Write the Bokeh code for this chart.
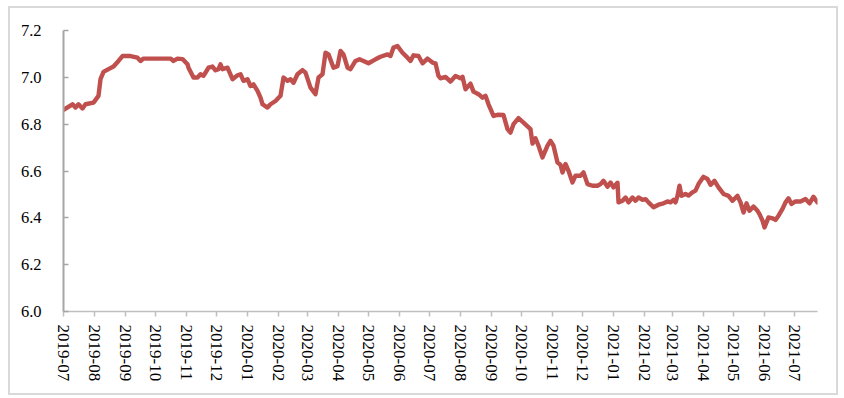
import pandas as pd
from bokeh.plotting import figure
from bokeh.models import (Range1d, FixedTicker, DatetimeTickFormatter, NumeralTickFormatter,
                          ColumnDataSource)
from bokeh.embed import file_html
from bokeh.resources import INLINE

dates = [
    "2019-07-01", "2019-07-10", "2019-07-13", "2019-07-16", "2019-07-20", "2019-07-23", "2019-07-31",
    "2019-08-05", "2019-08-07", "2019-08-10", "2019-08-15", "2019-08-20", "2019-08-25", "2019-08-29",
    "2019-09-06", "2019-09-13", "2019-09-16", "2019-09-19",
    "2019-10-16", "2019-10-19", "2019-10-23", "2019-10-28",
    "2019-11-02", "2019-11-03", "2019-11-08", "2019-11-12", "2019-11-15", "2019-11-18", "2019-11-23", "2019-11-27", "2019-11-30",
    "2019-12-03", "2019-12-05", "2019-12-07", "2019-12-12", "2019-12-17", "2019-12-22", "2019-12-25", "2019-12-28",
    "2020-01-01", "2020-01-04", "2020-01-07", "2020-01-11", "2020-01-14", "2020-01-16", "2020-01-21", "2020-01-24", "2020-01-29",
    "2020-02-03", "2020-02-06", "2020-02-10", "2020-02-13", "2020-02-16", "2020-02-20", "2020-02-25", "2020-02-28",
    "2020-03-04", "2020-03-09", "2020-03-12", "2020-03-16", "2020-03-19", "2020-03-22", "2020-03-27", "2020-03-31",
    "2020-04-03", "2020-04-06", "2020-04-10", "2020-04-13", "2020-04-18", "2020-04-22", "2020-04-26",
    "2020-05-01", "2020-05-08", "2020-05-13", "2020-05-20", "2020-05-23", "2020-05-26", "2020-05-30",
    "2020-06-04", "2020-06-09", "2020-06-12", "2020-06-15", "2020-06-20", "2020-06-24", "2020-06-29",
    "2020-07-04", "2020-07-07", "2020-07-10", "2020-07-12", "2020-07-17", "2020-07-22", "2020-07-27",
    "2020-08-01", "2020-08-03", "2020-08-06", "2020-08-11", "2020-08-14", "2020-08-19", "2020-08-23", "2020-08-26", "2020-08-29",
    "2020-09-03", "2020-09-07", "2020-09-13", "2020-09-17", "2020-09-20", "2020-09-23", "2020-09-28",
    "2020-10-03", "2020-10-10", "2020-10-12", "2020-10-15", "2020-10-18", "2020-10-22", "2020-10-27", "2020-10-30",
    "2020-11-02", "2020-11-06", "2020-11-09", "2020-11-11", "2020-11-14", "2020-11-17", "2020-11-21", "2020-11-24", "2020-11-29",
    "2020-12-02", "2020-12-06", "2020-12-11", "2020-12-16", "2020-12-19", "2020-12-22", "2020-12-26", "2020-12-29",
    "2021-01-01", "2021-01-05", "2021-01-06", "2021-01-10", "2021-01-13", "2021-01-16", "2021-01-20", "2021-01-23", "2021-01-26", "2021-01-30",
    "2021-02-02", "2021-02-05", "2021-02-10", "2021-02-15", "2021-02-20", "2021-02-24", "2021-02-27",
    "2021-03-02", "2021-03-04", "2021-03-06", "2021-03-08", "2021-03-10", "2021-03-14", "2021-03-17", "2021-03-21", "2021-03-24", "2021-03-27",
    "2021-04-01", "2021-04-05", "2021-04-08", "2021-04-12", "2021-04-16", "2021-04-21", "2021-04-26", "2021-04-30",
    "2021-05-05", "2021-05-08", "2021-05-11", "2021-05-14", "2021-05-17", "2021-05-21", "2021-05-25", "2021-05-27", "2021-05-30",
    "2021-06-01", "2021-06-05", "2021-06-09", "2021-06-12", "2021-06-15", "2021-06-19", "2021-06-22", "2021-06-25", "2021-06-28",
    "2021-07-02", "2021-07-07", "2021-07-12", "2021-07-16", "2021-07-20", "2021-07-24",
]

rates = [
    6.861, 6.885, 6.871, 6.885, 6.867, 6.885, 6.892,
    6.921, 6.992, 7.023, 7.035, 7.046, 7.070, 7.091,
    7.091, 7.084, 7.070, 7.080,
    7.080, 7.070, 7.080, 7.078,
    7.056, 7.041, 6.999, 6.999, 7.013, 7.006, 7.041, 7.046, 7.030,
    7.035, 7.056, 7.035, 7.041, 6.992, 7.009, 7.013, 6.985,
    6.992, 6.963, 6.970, 6.942, 6.913, 6.885, 6.871, 6.885, 6.899,
    6.921, 6.999, 6.985, 6.992, 6.977, 7.013, 7.031, 7.020,
    6.956, 6.928, 6.999, 7.013, 7.105, 7.098, 7.041, 7.048,
    7.113, 7.098, 7.041, 7.035, 7.070, 7.077, 7.070,
    7.060, 7.077, 7.088, 7.098, 7.091, 7.127, 7.134,
    7.105, 7.084, 7.070, 7.094, 7.091, 7.060, 7.080,
    7.063, 7.060, 7.006, 6.996, 7.002, 6.982, 7.006,
    6.996, 7.002, 6.949, 6.973, 6.939, 6.928, 6.913, 6.921, 6.885,
    6.835, 6.840, 6.839, 6.779, 6.764, 6.800, 6.826,
    6.807, 6.779, 6.717, 6.740, 6.708, 6.658, 6.708, 6.729,
    6.708, 6.636, 6.627, 6.594, 6.630, 6.601, 6.551, 6.580, 6.580,
    6.594, 6.544, 6.537, 6.537, 6.544, 6.558, 6.533, 6.551,
    6.530, 6.550, 6.466, 6.473, 6.487, 6.466, 6.487, 6.473, 6.487, 6.477,
    6.480, 6.466, 6.445, 6.456, 6.462, 6.470, 6.466,
    6.477, 6.466, 6.494, 6.537, 6.494, 6.502, 6.495, 6.509, 6.516, 6.544,
    6.575, 6.566, 6.541, 6.558, 6.530, 6.502, 6.494, 6.473,
    6.494, 6.466, 6.423, 6.462, 6.430, 6.448, 6.430, 6.416, 6.388,
    6.359, 6.402, 6.398, 6.391, 6.409, 6.438, 6.466, 6.483, 6.459,
    6.470, 6.470, 6.480, 6.462, 6.490, 6.466,
]

x_tick_labels = [
    "2019-07", "2019-08", "2019-09", "2019-10", "2019-11", "2019-12",
    "2020-01", "2020-02", "2020-03", "2020-04", "2020-05", "2020-06",
    "2020-07", "2020-08", "2020-09", "2020-10", "2020-11", "2020-12",
    "2021-01", "2021-02", "2021-03", "2021-04", "2021-05", "2021-06", "2021-07",
]
y_ticks = [6.0, 6.2, 6.4, 6.6, 6.8, 7.0, 7.2]

FONT = "Liberation Serif"

src = ColumnDataSource(dict(date=pd.to_datetime(dates), rate=rates))

# host box: 830 x 389 placed at (8, 6) with a 2px light-grey border
p = figure(
    width=830, height=389,
    x_axis_type="datetime",
    x_range=Range1d(pd.Timestamp("2019-07-01"), pd.Timestamp("2021-07-24")),
    y_range=Range1d(6.0, 7.2),
    output_backend="svg", toolbar_location=None,
    min_border_left=53, min_border_right=23, min_border_top=22, min_border_bottom=86,
    styles={"border": "2px solid #d9d9d9", "position": "relative",
            "left": "8px", "top": "6px"},
)
p.background_fill_color = "white"
p.border_fill_color = "white"
p.outline_line_color = None
p.xgrid.visible = False
p.ygrid.visible = False

p.line("date", "rate", source=src, line_color="#C0504D", line_width=4.4,
       line_join="round", line_cap="round")

tick_ms = [pd.Timestamp(l + "-01").value // 10**6 for l in x_tick_labels]
xa = p.xaxis[0]
xa.ticker = FixedTicker(ticks=tick_ms)
fmt = "%Y-%m"
xa.formatter = DatetimeTickFormatter(
    milliseconds=fmt, seconds=fmt, minsec=fmt, minutes=fmt, hourmin=fmt,
    hours=fmt, days=fmt, months=fmt, years=fmt)
xa.major_label_orientation = "vertical"
xa.major_label_text_font = FONT
xa.major_label_text_font_size = "17px"
xa.major_label_text_color = "black"
xa.major_label_standoff = 8
xa.axis_line_color = "#bfbfbf"
xa.axis_line_width = 1.5
xa.major_tick_line_color = "#bfbfbf"
xa.major_tick_line_width = 1.5
xa.major_tick_out = 5
xa.major_tick_in = 0
xa.minor_tick_line_color = None

ya = p.yaxis[0]
ya.ticker = FixedTicker(ticks=y_ticks)
ya.formatter = NumeralTickFormatter(format="0.0")
ya.major_label_text_font = FONT
ya.major_label_text_font_size = "16.5px"
ya.major_label_text_color = "black"
ya.major_label_standoff = 22
ya.axis_line_color = "#a6a6a6"
ya.axis_line_width = 2
ya.major_tick_line_color = "#a6a6a6"
ya.major_tick_line_width = 1.5
ya.major_tick_out = 0
ya.major_tick_in = 5
ya.minor_tick_line_color = None

open("out.html", "w").write(file_html(p, INLINE))
